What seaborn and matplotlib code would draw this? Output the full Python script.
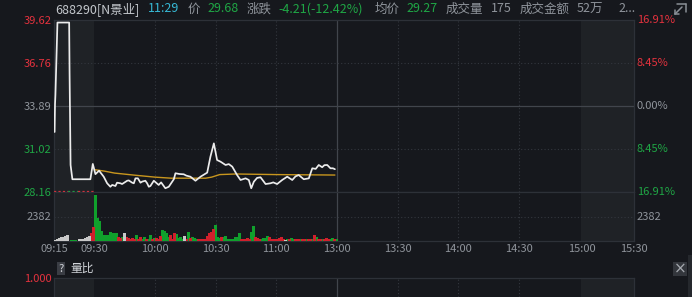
import numpy as np
import pandas as pd
import matplotlib
matplotlib.use("Agg")
import matplotlib.pyplot as plt
import seaborn as sns
from matplotlib.patches import Rectangle
from matplotlib.lines import Line2D

# ---------------- data ----------------
stock_code = "688290[N景业]"
quote_time = "11:29"
last_price = 29.68
change = -4.21
change_pct = -12.42
avg_price = 29.27
volume_total = 175
amount_text = "52万"

prev_close = 33.89
price_ticks = [28.16, 31.02, 33.89, 36.76, 39.62]
pct_labels = ["16.91%", "8.45%", "0.00%", "8.45%", "16.91%"]
vol_tick = 2382
vol_top = 4764
ratio_label = "1.000"

time_labels = ["09:15", "09:30", "10:00", "10:30", "11:00", "13:00",
               "13:30", "14:00", "14:30", "15:00", "15:30"]
time_slots = [-20, 0, 30, 60, 90, 120, 150, 180, 210, 241, 267]

# price line (slot = minute index from 09:30, pre-market slots negative)
price_slot = [-19.7, -19.5, -19.3, -18.8, -18.3, -12.5, -12.3, -11.8, -10.9, -2.0, -0.8,
              0.5, 2.3, 4.6, 6.3, 7.9, 8.8, 10.4, 11.2, 12.9, 13.7, 16.2, 17.0, 18.7,
              19.5, 20.3, 21.5, 22.8, 23.6, 25.2, 26.1, 26.9, 27.7, 29.4, 31.8, 33.0,
              35.1, 36.8, 39.3, 40.1, 42.0, 44.2, 45.5, 47.5, 50.0, 52.5, 55.8, 57.4,
              59.1, 60.7, 62.4, 64.9, 66.5, 68.2, 70.6, 72.3, 74.8, 76.4, 77.6, 78.9,
              80.5, 82.2, 84.7, 87.1, 88.5, 90.4, 92.9, 95.4, 97.9, 99.5, 101.1, 103.6,
              106.1, 107.8, 109.5, 111.0, 112.7, 113.8, 115.2, 116.8, 118.0, 119.0]
price_val = [32.16, 34.00, 34.62, 37.02, 39.45, 39.45, 36.16, 29.96, 29.01, 29.01, 30.03,
             29.35, 29.58, 29.18, 28.74, 28.51, 28.63, 28.56, 28.78, 28.74, 28.69, 28.91,
             28.93, 28.78, 28.74, 29.07, 29.07, 28.78, 28.85, 28.91, 28.74, 28.51, 28.56,
             28.91, 28.63, 28.80, 28.41, 28.51, 29.01, 29.41, 29.36, 29.34, 29.25, 29.18,
             28.91, 29.18, 29.45, 30.51, 31.40, 30.29, 30.18, 29.96, 30.02, 29.85, 29.29,
             28.96, 29.07, 28.96, 28.41, 28.85, 29.10, 29.14, 28.69, 28.74, 28.80, 28.69,
             28.96, 29.18, 28.96, 29.20, 29.29, 29.01, 29.07, 29.74, 29.70, 29.96, 29.81,
             29.95, 29.96, 29.74, 29.74, 29.68]

avg_slot = [0, 5, 10, 20, 30, 38, 55, 58, 62, 70, 90, 119]
avg_val = [29.65, 29.55, 29.42, 29.28, 29.15, 29.08, 29.08, 29.15, 29.32, 29.36, 29.32, 29.29]

# pre-market auction volume (slots -20 .. -1)
pre_vol = [100, 195, 260, 360, 420, 485, 555, 0, 100, 100, 100, 0,
           165, 165, 195, 260, 360, 485, 805, 1330]
pre_col = list("wwwwwwwwgggwwwwwwwrr")

# continuous trading volume per minute, 09:30 .. 11:29 (r = up, g = down, w = flat)
vol = [4460, 2200, 1940, 970, 580, 580, 580, 900, 805, 745,
       805, 420, 260, 420, 745, 420, 260, 165, 260, 165,
       580, 165, 420, 165, 420, 225, 165, 580, 165, 260,
       260, 165, 485, 1065, 970, 745, 420, 580, 165, 745,
       680, 260, 420, 165, 485, 165, 870, 260, 420, 260,
       165, 165, 165, 165, 165, 485, 745, 900, 1135, 1550,
       420, 320, 420, 360, 485, 165, 165, 165, 165, 420,
       420, 745, 165, 165, 165, 260, 165, 900, 1455, 420,
       260, 165, 165, 260, 320, 485, 360, 165, 165, 165,
       165, 260, 420, 165, 100, 165, 165, 260, 165, 165,
       165, 165, 165, 165, 165, 165, 165, 165, 580, 420,
       165, 165, 165, 165, 260, 165, 165, 260, 165, 165]
vol_col = list("gggggggggg" "grrgwrrrrr" "grrggrggrg" "rrrggggrrr" "ggggwrgrgg"
               "grrrrrrrrg" "ggrggggggg" "ggrrrrrggr" "rrggggrrrr" "rrrrwgrggr"
               "rgrrgrrgrg" "rrgrrrggrg")

# ---------------- style ----------------
BG = "#16181d"
SHADE = "#1f2226"
BORDER = "#2d3138"
GRID = "#33373e"
MID = "#41454c"
RED = "#e5323e"
GREEN = "#1fa645"
GREY = "#8f949b"
CODE = "#c3c7cc"
CYAN = "#36b8d4"
BAR = {"r": "#d0202c", "g": "#10a02c", "w": "#c8c8c8"}

sns.set_theme(style="dark")
plt.rcParams['font.family'] = ['Noto Sans CJK SC', 'DejaVu Sans']
plt.rcParams['axes.unicode_minus'] = False
plt.rcParams['patch.force_edgecolor'] = False

W, H = 692, 297
fig = plt.figure(figsize=(W / 100, H / 100), dpi=100, facecolor=BG)


def fx(px):
    return px / W


def fy(py):
    return 1 - py / H


L, R = 54, 634
ax_p = fig.add_axes([fx(L), fy(192), fx(R - L), (192 - 20) / H])
ax_v = fig.add_axes([fx(L), fy(241), fx(R - L), (241 - 192) / H])
ax_r = fig.add_axes([fx(L), 0, fx(R - L), (297 - 278) / H])

xmin, xmax = time_slots[0], time_slots[-1]
for ax in (ax_p, ax_v, ax_r):
    ax.set_facecolor(BG)
    ax.set_xlim(xmin, xmax)
    ax.grid(False)
    for s in ax.spines.values():
        s.set_color(BORDER)
        s.set_linewidth(0.9)
    ax.axvspan(xmin, 0, color=SHADE, lw=0, zorder=0)
    ax.axvspan(241, xmax, color=SHADE, lw=0, zorder=0)
    for t in (30, 60, 90, 150, 180, 210):
        ax.axvline(t, color=GRID, lw=0.8, ls=(0, (1, 2)), zorder=1)
    ax.axvline(120, color=MID, lw=0.9, zorder=1)
    ax.tick_params(length=0)

ax_r.spines['bottom'].set_visible(False)

# ---- price panel ----
ax_p.set_ylim(price_ticks[0], price_ticks[-1])
for p in (price_ticks[1], price_ticks[3]):
    ax_p.axhline(p, color=GRID, lw=0.8, ls=(0, (1, 2)), zorder=1)
ax_p.axhline(prev_close, color=MID, lw=0.9, zorder=1)

df_p = pd.DataFrame({"slot": price_slot, "price": price_val})
df_a = pd.DataFrame({"slot": avg_slot, "price": avg_val})
sns.lineplot(data=df_a, x="slot", y="price", ax=ax_p, color="#c8961e", lw=1.0,
             estimator=None, sort=False, zorder=3)
sns.lineplot(data=df_p, x="slot", y="price", ax=ax_p, color="#ececec", lw=1.25,
             estimator=None, sort=False, zorder=4)
ax_p.set_xlabel("")
ax_p.set_ylabel("")

ax_p.set_yticks(price_ticks)
ax_p.set_yticklabels([f"{p:.2f}" for p in price_ticks], fontsize=8)
tick_cols = [GREEN, GREEN, GREY, RED, RED]
for lab, c in zip(ax_p.get_yticklabels(), tick_cols):
    lab.set_color(c)
ax_p.tick_params(axis='y', pad=2)
ax_p.set_xticks([])
for p, lab, c in zip(price_ticks, pct_labels, tick_cols):
    ax_p.text(1.005, p, lab, color=c, fontsize=8, va='center', ha='left',
              transform=ax_p.get_yaxis_transform())

# pre-market auction marker row on the 28.16 line
for a, b, c in ((xmin, -13, RED), (-13, -8, GREEN), (-8, 0, RED)):
    ax_p.plot([a, b], [price_ticks[0]] * 2, color=c, lw=1.6, ls=(0, (1, 1)),
              clip_on=False, zorder=5)

# ---- volume panel ----
ax_v.set_ylim(0, vol_top)
ax_v.axhline(vol_tick, color=GRID, lw=0.8, ls=(0, (1, 2)), zorder=1)
df_v = pd.DataFrame({
    "slot": np.concatenate([np.arange(-len(pre_vol), 0), np.arange(len(vol))]) + 0.5,
    "vol": pre_vol + vol,
    "col": pre_col + vol_col,
})
for code, grp in df_v.groupby("col"):
    ax_v.vlines(grp["slot"], 0, grp["vol"], colors=BAR[code], lw=0.75, zorder=3,
                antialiased=False)
ax_v.set_yticks([vol_tick])
ax_v.set_yticklabels([str(vol_tick)], fontsize=8, color=GREY)
ax_v.tick_params(axis='y', pad=2)
ax_v.text(1.005, vol_tick, str(vol_tick), color=GREY, fontsize=8, va='center', ha='left',
          transform=ax_v.get_yaxis_transform())
ax_v.set_xticks(time_slots)
ax_v.set_xticklabels(time_labels, fontsize=8, color=GREY)
ax_v.tick_params(axis='x', pad=2)
ax_v.set_xlabel("")
ax_v.set_ylabel("")

# ---- ratio panel ----
ax_r.set_ylim(0, 1.1)
ax_r.set_xticks([])
ax_r.set_yticks([])
fig.text(fx(52), fy(279), ratio_label, color=RED, fontsize=8, ha='right', va='center')
fig.text(fx(61), fy(268.5), "?", color="#d0d3d8", fontsize=8, ha='center', va='center',
         bbox=dict(boxstyle="square,pad=0.15", fc="#3a3d44", ec="none"))
fig.text(fx(70), fy(268.5), "量比", color="#d0d3d8", fontsize=8.5, ha='left', va='center')

# ---- header ----
header = [
    (55, stock_code, CODE),
    (148, quote_time, CYAN),
    (188, "价", GREY),
    (207, f"{last_price:.2f}", GREEN),
    (247, "涨跌", GREY),
    (278, f"{change:.2f}({change_pct:.2f}%)", GREEN),
    (375, "均价", GREY),
    (406, f"{avg_price:.2f}", GREEN),
    (446, "成交量", GREY),
    (491, str(volume_total), GREY),
    (520, "成交金额", GREY),
    (577, amount_text, GREY),
    (618, "2...", GREY),
]
for x, s, c in header:
    fig.text(fx(x), fy(9), s, color=c, fontsize=9, ha='left', va='center')

# ---- decorations ----
ic = "#8a8f96"
for (x0, y0, x1, y1) in [(677, 3.5, 686, 3.5), (686, 3.5, 686, 12), (682, 7, 675, 14),
                         (675, 14, 675, 10), (675, 14, 679, 14)]:
    fig.add_artist(Line2D([fx(x0), fx(x1)], [fy(y0), fy(y1)], color=ic, lw=1.1))
fig.add_artist(Rectangle((fx(673), fy(276)), fx(14), 14 / H, facecolor="#33363c",
                         edgecolor="none"))
fig.text(fx(680), fy(269), "×", color="#a5a9af", fontsize=11, ha='center', va='center',
         family="DejaVu Sans")
fig.add_artist(Rectangle((fx(688), 0), fx(4), fy(255), facecolor="#25282d",
                         edgecolor="none"))

fig.savefig("out.png", dpi=100, facecolor=BG)
